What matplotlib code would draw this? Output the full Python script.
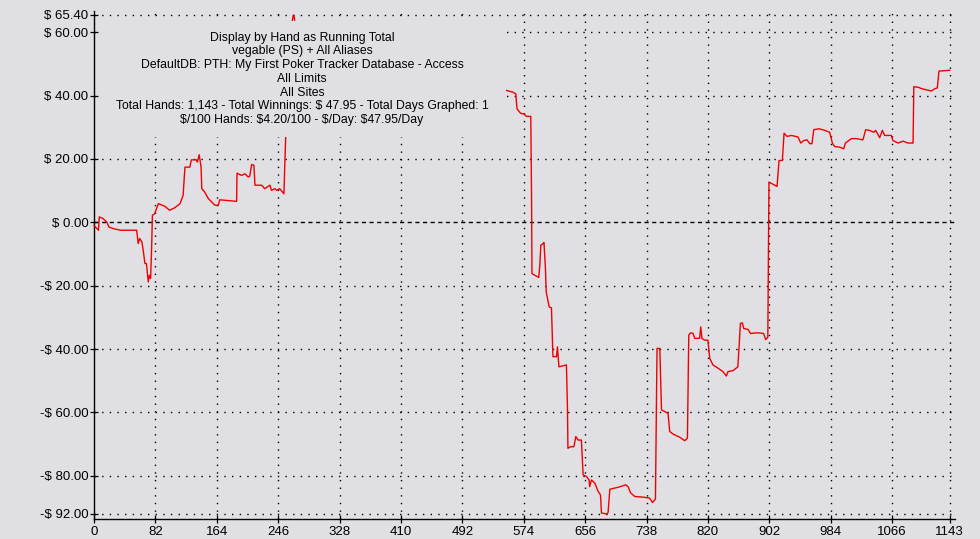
import numpy as np
import matplotlib
matplotlib.use("Agg")
import matplotlib.pyplot as plt
from matplotlib.patches import Rectangle

# running total; the middle part is hidden by the caption box
hands_a = [0, 6, 7, 12, 17, 20, 26, 35, 57, 59, 61, 64, 66, 68, 70, 72.5, 74, 75.6,
           77, 78, 81, 86, 95, 101, 108, 115, 119, 121.5, 128, 130, 137, 138, 140.5,
           143, 144, 148, 152.6, 161.5, 166, 168, 190.5, 191, 197, 201.6, 206, 208,
           210.5, 213.6, 215, 224, 228, 235, 237, 241.7, 244, 248, 253.7, 255, 256,
           265, 266, 267, 268]
won_a = [-1, -2.5, 1.7, 1.2, 0.1, -1.5, -2, -2.5, -2.5, -6.7, -5.1, -6.2, -9.3, -13,
         -13, -18.8, -16.7, -17.7, -7.8, 2.2, 2.7, 5.9, 5.0, 3.8, 4.6, 5.9, 8.5, 17.4,
         17.4, 19.7, 19.7, 19.0, 21.3, 17.4, 10.6, 9.5, 7.5, 5.4, 5.4, 7.1, 6.6, 15.5,
         14.8, 15.3, 14.3, 14.5, 18.2, 18.0, 11.7, 11.7, 10.6, 11.7, 10.1, 10.6, 10.1,
         10.6, 9.0, 19.5, 26.4,
         63.8, 65.3, 65.3, 63.8]

hands_c = [551, 560, 563.4, 565, 569.7, 574, 577.7, 583.4, 584.4, 585, 588.8, 594,
           595.5, 596.8, 600, 601, 603, 604, 608, 611, 613, 617.7, 619, 621, 624.4,
           631, 632.4, 633, 636.4, 641, 643.5, 646.6, 651, 653.3, 657.8, 661.3, 662,
           664.5, 669, 673.3, 676.5, 677.8, 684.5, 686.6, 689, 700, 706.7, 710, 713.4,
           716.5, 722.3, 733.4, 742, 746, 749.9, 752, 755.7, 758, 764.6, 766.7, 769,
           773.4, 782.3, 789, 792.6, 794.4, 796.6, 800, 802.4, 809, 810.4, 812, 814.4,
           816.6, 820, 822.4, 826.7, 833.4, 840, 844.6, 846.8, 853.5, 860, 863.4, 866,
           867.8, 873.6, 877, 882.5, 889, 894.5, 897, 900, 901.5, 907, 912.3, 915,
           919.4, 921.7, 925.6, 931.5, 940.3, 944, 948, 952.4, 956, 959, 961.3, 968.4,
           976, 982.6, 986.2, 989.3, 996, 1001.3, 1003.6, 1011.6, 1018.3, 1027, 1030.7,
           1036, 1041.4, 1044, 1049.4, 1053, 1056, 1065, 1067, 1074, 1080.6, 1087, 1094,
           1095, 1100.6, 1106.4, 1111.7, 1118.4, 1122.8, 1126.4, 1128.6, 1143]
won_c = [41.6, 41.0, 40.5, 35.8, 34.4, 34.2, 33.4, 33.4, 8.5, -16.2, -16.7, -17.4,
         -13.5, -7.2, -6.7, -6.4, -14.6, -22, -26.7, -27, -42.4, -42.4, -39.3, -45.6,
         -45.4, -45, -58.7, -71.3, -70.8, -70.8, -67.6, -68.7, -68.7, -79.7, -80.2,
         -81.3, -83.4, -81.3, -82.3, -84.9, -86, -91.7, -92, -91.6, -84.2, -83.6, -83.1,
         -82.8, -83.4, -85.3, -86.5, -86.7, -87, -88.4, -87.3, -39.8, -39.8, -59.2, -60,
         -60.3, -66, -66.8, -67.8, -68.9, -68.1, -35.6, -34.9, -35, -36.6, -36.6, -33,
         -36.6, -37, -37.2, -37.2, -42.9, -45, -46, -47.1, -48.5, -47.1, -46.8, -45.6,
         -31.9, -31.7, -33.5, -33.8, -35.1, -34.9, -34.9, -35.1, -37, -36.3, 12.7, 12,
         11.3, 19.5, 19.5, 28.1, 27.1, 27.4, 26.9, 25, 25.8, 26, 24.8, 24.8, 29.2, 29.5,
         29, 28.4, 25, 23.9, 23.7, 23.2, 25, 26.4, 26.4, 26, 29.2, 29, 28.4, 29, 26.7,
         29, 27.4, 27.4, 25.8, 25, 25.6, 25, 25, 42.8, 42.6, 42.1, 41.8, 41.4, 42.1,
         42.4, 47.7, 47.95]

x_ticks = [0, 82, 164, 246, 328, 410, 492, 574, 656, 738, 820, 902, 984, 1066, 1143]
y_ticks = [65.40, 60, 40, 20, 0, -20, -40, -60, -80, -92]

header = [
    "Display by Hand as Running Total",
    "vegable (PS) + All Aliases",
    "DefaultDB: PTH: My First Poker Tracker Database - Access",
    "All Limits",
    "All Sites",
    "Total Hands: 1,143 - Total Winnings: $ 47.95 - Total Days Graphed: 1",
    "$/100 Hands: $4.20/100 - $/Day: $47.95/Day",
]

bg = "#E0DFE3"
plt.rcParams["font.family"] = ["Liberation Sans", "DejaVu Sans"]
plt.rcParams["text.parse_math"] = False

fig = plt.figure(figsize=(9.8, 5.39), dpi=100, facecolor=bg)
ax = fig.add_axes([94 / 980, 20 / 539, 861 / 980, 507.5 / 539])
ax.set_facecolor(bg)

# grid drawn by hand: dotted, with a dashed zero line
for yv in y_ticks:
    ls = (0, (3, 2.5)) if yv == 0 else (0, (1, 4.5))
    ax.axhline(yv, color="black", lw=1.0, ls=ls, zorder=1)
for xv in x_ticks[1:]:
    ax.axvline(xv, color="black", lw=1.0, ls=(0, (1, 4.5)), zorder=1)

for hx, wy in [(hands_a, won_a), (hands_c, won_c)]:
    ax.plot(hx, wy, color="#F00000", lw=1.0, zorder=3, clip_on=False)

ax.set_xlim(0, 1150)
ax.set_ylim(-93.6, 66.5)
ax.set_xticks(x_ticks)
ax.set_yticks(y_ticks)
ax.set_yticklabels([("-$ %.2f" % -v) if v < 0 else ("$ %.2f" % v) for v in y_ticks])
ax.tick_params(direction="inout", length=6, width=0.9, labelsize=9.5, pad=1)
ax.tick_params(axis="x", pad=2)

for side in ["top", "right"]:
    ax.spines[side].set_visible(False)
for side in ["left", "bottom"]:
    ax.spines[side].set_linewidth(1.0)

# opaque caption box: hides grid and line behind the text
fig.add_artist(Rectangle((99 / 980, 1 - 137 / 539), (506 - 99) / 980, 116 / 539,
                         transform=fig.transFigure, facecolor=bg, edgecolor="none",
                         zorder=2))
for i, line in enumerate(header):
    fig.text(302 / 980, 1 - (37.5 + i * 13.8) / 539, line, ha="center", va="center",
             fontsize=8.8, zorder=3)

fig.savefig("out.png", dpi=100, facecolor=bg)
